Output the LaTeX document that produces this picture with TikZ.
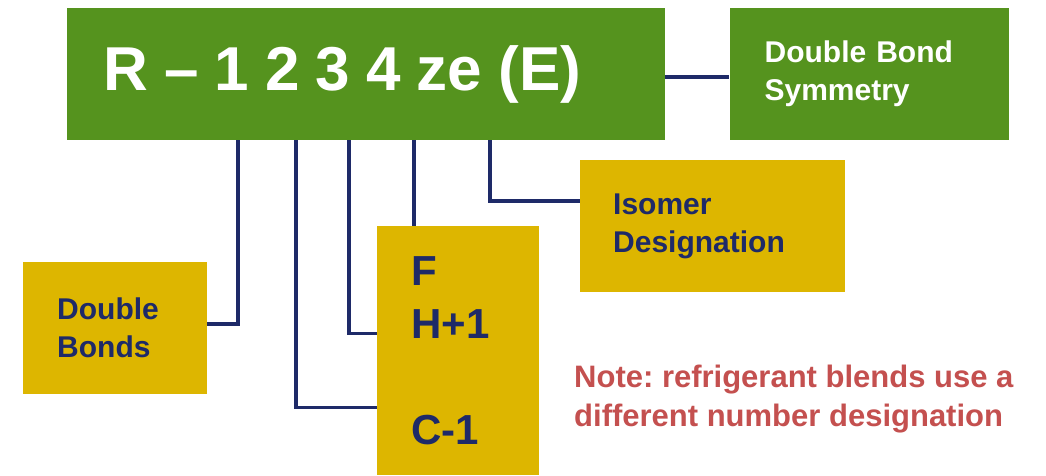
\documentclass[tikz,border=0pt]{standalone}
\usepackage{fontspec}
\setmainfont{Liberation Sans}
\usepackage{xcolor}
\usepackage{tikz}
\usetikzlibrary{positioning}
\definecolor{leaf}{HTML}{55931E}
\definecolor{gold}{HTML}{DDB600}
\definecolor{navy}{HTML}{1E2A68}
\definecolor{notered}{HTML}{C4504F}
\frenchspacing

\begin{document}
\begin{tikzpicture}[
  x=1pt, y=-1pt,
  greenbox/.style={fill=leaf, text=white, font=\bfseries\fontsize{30}{38}\selectfont, align=left, inner ysep=0pt, minimum height=132pt},
  goldbox/.style={fill=gold, text=navy, font=\bfseries\fontsize{30}{38}\selectfont, align=left, inner ysep=0pt},
  link/.style={navy, line width=3.5pt}
]
\useasboundingbox (0,0) rectangle (1046,475);
\node[greenbox, anchor=north west, inner xsep=36pt, text width=526pt, font=\bfseries\fontsize{62}{70}\selectfont] (code) at (67,8) {\spaceskip=0.26em\relax R -- 1 2 3 4 ze (E)};
\node[greenbox, right=64pt of code, inner xsep=35pt, text width=209pt] (sym) {Double Bond\\Symmetry};
\node[goldbox, anchor=north west, inner xsep=34pt, text width=116pt, minimum height=132pt] (dbl) at (23,262) {Double\\Bonds};
\node[goldbox, anchor=north west, inner xsep=34pt, text width=94pt, minimum height=249pt, font=\bfseries\fontsize{42}{53}\selectfont] (fh) at (377,226) {F\\H+1\\[53pt]C-1};
\node[goldbox, anchor=north west, inner xsep=33pt, text width=199pt, minimum height=132pt] (iso) at (580,160) {Isomer\\Designation};
\node[anchor=north west, inner sep=0pt, align=left, text=notered, font=\bfseries\fontsize{31}{39}\selectfont] (note) at (574,365) {Note: refrigerant blends use a\\different number designation};

\coordinate (t1) at ([xshift=171pt]code.south west);
\coordinate (t2) at ([xshift=229pt]code.south west);
\coordinate (t3) at ([xshift=282pt]code.south west);
\coordinate (t4) at ([xshift=347pt]code.south west);
\coordinate (t5) at ([xshift=423pt]code.south west);
\draw[link] ([yshift=-3pt]code.east) -- ([yshift=-3pt]sym.west);
\draw[link] (t1) |- ([yshift=4pt]dbl.east);
\draw[link] (t2) |- ([yshift=-57pt]fh.west);
\draw[link] (t3) |- ([yshift=17pt]fh.west);
\draw[link] (t4) -- (t4 |- fh.north);
\draw[link] (t5) |- ([yshift=25pt]iso.west);
\end{tikzpicture}
\end{document}
